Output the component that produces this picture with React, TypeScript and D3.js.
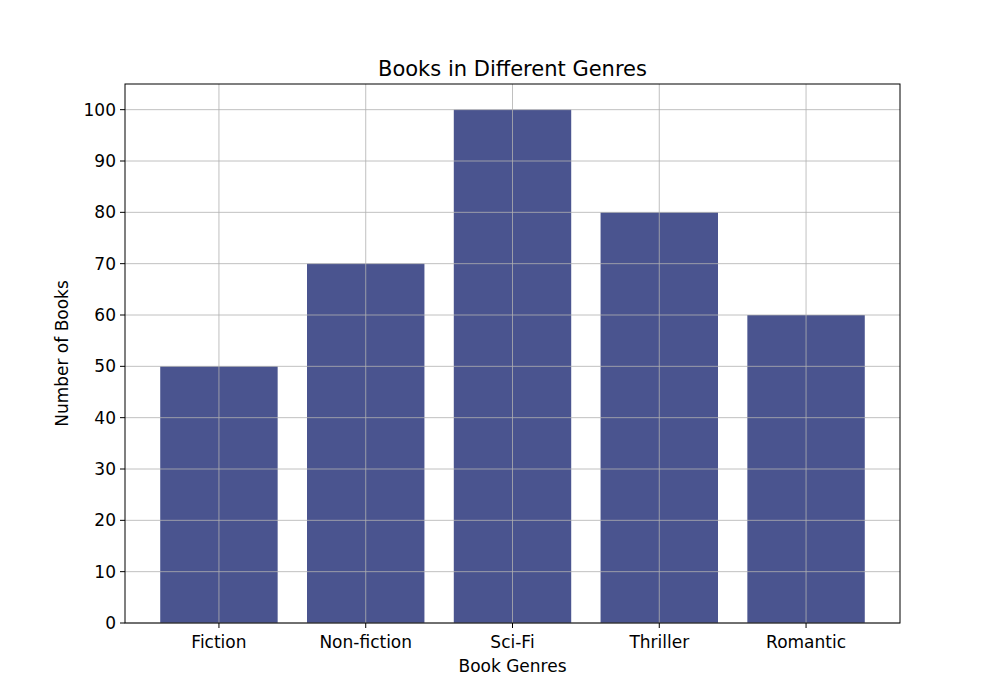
import { useEffect, useRef } from "react"
import * as d3 from "d3"

const genres = ["Fiction", "Non-fiction", "Sci-Fi", "Thriller", "Romantic"]
const counts = [50, 70, 100, 80, 60]
const yTicks = [0, 10, 20, 30, 40, 50, 60, 70, 80, 90, 100]

export default function App() {
  const svgRef = useRef<SVGSVGElement>(null)

  useEffect(() => {
    if (!svgRef.current) return
    const svg = d3.select(svgRef.current)
    svg.selectAll("*").remove()

    const left = 125, right = 900, top = 84, bottom = 623
    const font = "DejaVu Sans, sans-serif"

    const x = d3.scaleLinear().domain([-0.64, 4.64]).range([left, right])
    const y = d3.scaleLinear().domain([0, 105]).range([bottom, top])

    svg.append("rect").attr("width", 1000).attr("height", 700).attr("fill", "#fff")

    // bars
    svg.selectAll(".bar")
      .data(counts)
      .enter()
      .append("rect")
      .attr("x", (_, i) => x(i - 0.4))
      .attr("width", x(0.4) - x(-0.4))
      .attr("y", (d) => y(d))
      .attr("height", (d) => y(0) - y(d))
      .attr("fill", "#4a548f")

    // grid on top
    const grid = svg.append("g").attr("stroke", "#b0b0b0").attr("stroke-width", 0.8)
    yTicks.forEach((t) => {
      grid.append("line").attr("x1", left).attr("x2", right).attr("y1", y(t)).attr("y2", y(t))
    })
    genres.forEach((_, i) => {
      grid.append("line").attr("x1", x(i)).attr("x2", x(i)).attr("y1", top).attr("y2", bottom)
    })

    // frame
    svg.append("rect")
      .attr("x", left).attr("y", top)
      .attr("width", right - left).attr("height", bottom - top)
      .attr("fill", "none").attr("stroke", "#000").attr("stroke-width", 1)

    // y ticks
    yTicks.forEach((t) => {
      svg.append("line").attr("x1", left - 5).attr("x2", left).attr("y1", y(t)).attr("y2", y(t)).attr("stroke", "#000")
      svg.append("text")
        .attr("x", left - 9).attr("y", y(t))
        .attr("text-anchor", "end").attr("dominant-baseline", "central")
        .attr("font-family", font).attr("font-size", 17)
        .text(t)
    })

    // x ticks
    genres.forEach((g, i) => {
      svg.append("line").attr("x1", x(i)).attr("x2", x(i)).attr("y1", bottom).attr("y2", bottom + 5).attr("stroke", "#000")
      svg.append("text")
        .attr("x", x(i)).attr("y", bottom + 25)
        .attr("text-anchor", "middle")
        .attr("font-family", font).attr("font-size", 17)
        .text(g)
    })

    svg.append("text")
      .attr("x", (left + right) / 2).attr("y", 672)
      .attr("text-anchor", "middle")
      .attr("font-family", font).attr("font-size", 17)
      .text("Book Genres")

    svg.append("text")
      .attr("transform", `translate(68, ${(top + bottom) / 2}) rotate(-90)`)
      .attr("text-anchor", "middle")
      .attr("font-family", font).attr("font-size", 17)
      .text("Number of Books")

    svg.append("text")
      .attr("x", (left + right) / 2).attr("y", 76)
      .attr("text-anchor", "middle")
      .attr("font-family", font).attr("font-size", 21)
      .text("Books in Different Genres")
  }, [])

  return (
    <svg
      ref={svgRef}
      width={1000}
      height={700}
      style={{ position: "absolute", left: 0, top: 0, display: "block" }}
    />
  )
}
